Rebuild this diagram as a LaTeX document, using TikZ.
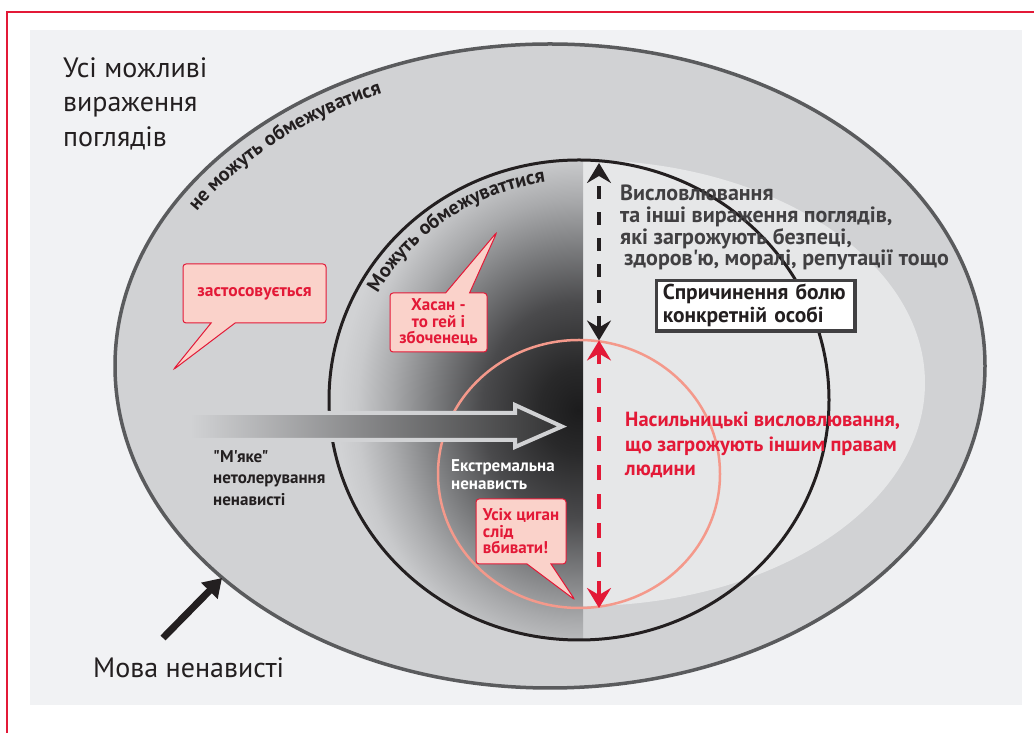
\documentclass[tikz,border=0pt]{standalone}
\usepackage{fontspec}
\setmainfont{PT Sans}[Ligatures=TeXOff]
\usetikzlibrary{arrows.meta,shapes.callouts,decorations.text}

\definecolor{panelgray}{HTML}{F1F2F4}
\definecolor{ringgray}{HTML}{D1D2D4}
\definecolor{rimgray}{HTML}{5A5B5D}
\definecolor{palegray}{HTML}{E6E7E8}
\definecolor{hatered}{HTML}{E31937}
\definecolor{salmon}{HTML}{F4998B}
\definecolor{bubblepink}{HTML}{FAD2CA}
\definecolor{inkblack}{HTML}{231F20}
\definecolor{inkgray}{HTML}{414042}
\definecolor{core0}{HTML}{1C1C1D}
\definecolor{core1}{HTML}{29292A}
\definecolor{core2}{HTML}{4A4A4C}
\definecolor{core3}{HTML}{7B7C7E}
\definecolor{core4}{HTML}{A9AAAC}
\definecolor{core5}{HTML}{C8C9CB}

\pgfdeclareradialshading{hatecore}{\pgfpoint{0bp}{0bp}}{%
  color(0bp)=(core0); color(4bp)=(core1); color(10bp)=(core2);
  color(15bp)=(core3); color(19.5bp)=(core4); color(23bp)=(core5);
  color(25bp)=(ringgray); color(50bp)=(ringgray)}

\begin{document}
\begin{tikzpicture}[x=1pt,y=1pt,
  big label/.style={font=\fontsize{28}{34.5}\selectfont, text=inkblack,
    align=left, inner sep=0pt},
  bold label/.style 2 args={font=\bfseries\fontsize{#1}{#2}\selectfont,
    align=left, inner sep=0pt},
  speech bubble/.style={rectangle callout, draw=hatered, fill=bubblepink,
    line width=1pt, rounded corners=3pt, text=hatered, inner sep=2pt,
    callout pointer width=24pt, font=\bfseries\fontsize{17}{16.5}\selectfont},
  pain box/.style={draw=inkgray, fill=white, line width=3.5pt, align=left,
    text width=186pt, inner xsep=6.25pt, inner ysep=2pt, minimum height=50.5pt,
    text=inkblack, font=\bfseries\fontsize{21.5}{23}\selectfont},
  limit dash/.style={line width=4.5pt, dash pattern=on 13pt off 13pt,
    {Stealth[length=20pt,width=24pt,inset=7pt]}-{Stealth[length=20pt,width=24pt,inset=7pt]}},
  arc text/.style={decorate, decoration={text along path, text align=left,
    text color=inkblack, text={|\bfseries\fontsize{20}{20}\selectfont|#1}}}]

\useasboundingbox (0,0) rectangle (1034,733);
\fill[white] (0,0) rectangle (1034,733);
\fill[panelgray] (30,28) rectangle (1022,703);
\draw[hatered, line width=2] (7,0) -- (7,721) -- (1034,721);

% rings
\filldraw[fill=ringgray, draw=rimgray, line width=3.5] (550,367) ellipse [x radius=435, y radius=322];
\begin{scope}
  \clip (583,0) rectangle (1034,733);
  \fill[palegray] (583,350) ellipse [x radius=342, y radius=223];
\end{scope}
\begin{scope}
  \clip (579,333) ellipse [x radius=250, y radius=240];
  \clip (0,0) rectangle (583,733);
  \shade[shading=hatecore] (578,323) ellipse [x radius=240, y radius=270];
\end{scope}
\draw[inkblack, line width=3] (579,333) ellipse [x radius=250, y radius=240];
\draw[salmon, line width=2.5] (579,259) ellipse [x radius=141, y radius=134];

% soft intolerance arrow
\shadedraw[left color=ringgray, right color=core0!90!white, draw=ringgray, line width=4]
  (190,320) -- (515,320) -- (515,328) -- (562,306.5) -- (515,286) -- (515,293) -- (190,293) -- cycle;

% limits
\coordinate (blacktop) at (599,570);
\coordinate (meet) at (599,392.5);
\coordinate (redbot) at (599,125);
\draw[limit dash, inkblack] (meet) -- (blacktop);
\draw[limit dash, hatered, dash pattern=on 15pt off 14pt] (redbot) -- (meet);

% curved labels
\path[arc text={не можуть обмежуватися}] (550,367) ++(149:412 and 299)
  arc[start angle=149, end angle=90, x radius=412, y radius=299];
\path[arc text={Можуть обмежуваттися}] (579,333) ++(151:230 and 220)
  arc[start angle=151, end angle=80, x radius=230, y radius=220];

% texts
\node[big label, anchor=north west] (allviews) at (63,676) {Усі можливі\\вираження\\поглядів};
\node[big label, anchor=north west] (hatespeech) at (93,76) {Мова ненависті};
\coordinate (movatail) at (163,95);
\coordinate (movatip) at (222,155);
\draw[inkblack, line width=7, -{Triangle[length=18pt,width=22pt]}] (movatail) -- (movatip);

\node[bold label={17}{21.5}, anchor=north west, text=inkblack] (soft) at (213,283)
  {"М'яке"\\нетолерування\\ненависті};
\node[bold label={17}{18.5}, anchor=north west, text=white] (extreme) at (451,274)
  {Екстремальна\\ненависть};
\node[bold label={22}{21.7}, anchor=north west, text=inkgray] (threats) at (620,548)
  {Висловлювання\\та інші вираження поглядів,\\які загрожують безпеці,\\\hspace{4pt}здоров'ю, моралі, репутації тощо};
\node[bold label={20.5}{24.5}, anchor=north west, text=hatered] (violent) at (625,321)
  {Насильницькі висловлювання,\\що загрожують іншим правам\\людини};
\node[pain box, anchor=north west] (painbox) at (654.75,454.25) {Спричинення болю\\конкретній особі};

% bubbles
\node[speech bubble, minimum width=143pt, minimum height=59pt,
  font=\bfseries\fontsize{17.5}{17.5}\selectfont,
  callout absolute pointer={(173,363)}] (applied) at (254.5,439.5) {застосовується};
\node[speech bubble, minimum width=97pt, minimum height=59pt, align=center,
  callout absolute pointer={(497,501)}] (hasan) at (438.5,410.5) {Хасан -\\то гей і\\збоченець};
\node[speech bubble, minimum width=90pt, minimum height=65pt, align=left,
  callout absolute pointer={(575,133)}] (gypsies) at (521,201.5) {Усіх циган\\слід\\вбивати!};

\end{tikzpicture}
\end{document}
